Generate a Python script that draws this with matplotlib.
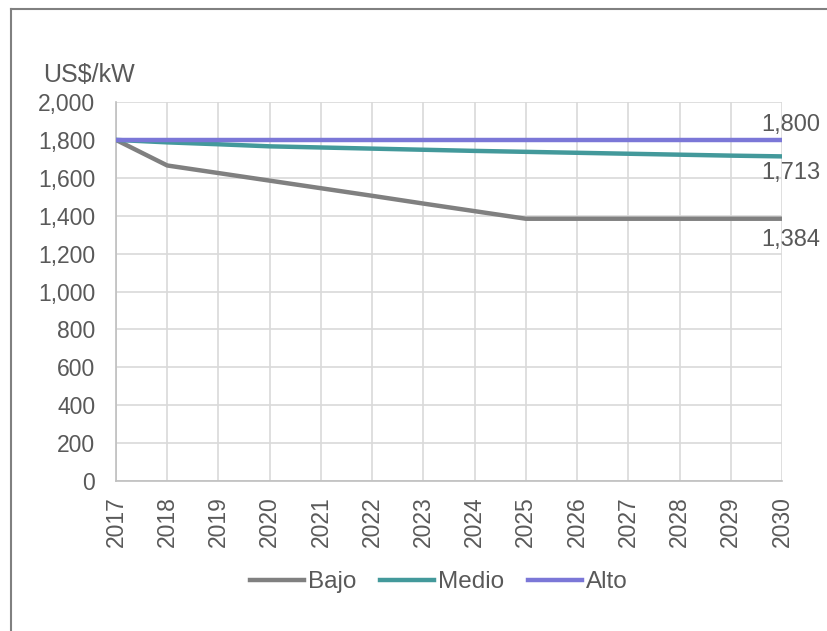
import matplotlib
matplotlib.use("Agg")
import matplotlib.pyplot as plt
from matplotlib.lines import Line2D

plt.rcParams['font.family'] = ['Liberation Sans', 'DejaVu Sans']

years = list(range(2017, 2031))
bajo = [1800, 1665, 1625, 1585, 1545, 1505, 1464, 1424, 1384, 1384, 1384, 1384, 1384, 1384]
medio = [1800, 1787, 1777, 1766, 1760, 1754, 1748, 1742, 1737, 1732, 1727, 1722, 1717, 1713]
alto = [1800] * 14
series_names = ["Bajo", "Medio", "Alto"]
colors = ["#808080", "#43999B", "#7B77D7"]

text_color = "#595959"
fs_tick = 16.5
fs_lab = 17
fs_leg = 17.5

W, H = 827, 631
fig = plt.figure(figsize=(W / 100, H / 100), dpi=100)
ax = fig.add_axes([116 / W, 1 - 481 / H, (782 - 116) / W, (481 - 102) / H])

for vals, name, c in zip([bajo, medio, alto], series_names, colors):
    ax.plot(years, vals, color=c, lw=3.2, label=name, solid_capstyle='butt', zorder=3)

ax.set_xlim(2017, 2030)
ax.set_ylim(0, 2000)
ax.set_yticks(range(0, 2001, 200))
ax.set_yticklabels([f"{v:,}" for v in range(0, 2001, 200)])
ax.set_xticks(years)
ax.set_xticklabels([str(y) for y in years], rotation=90)
ax.tick_params(axis='both', length=0, labelsize=fs_tick, colors=text_color)
ax.tick_params(axis='y', pad=15)
ax.tick_params(axis='x', pad=11)
ax.grid(True, color="#D9D9D9", lw=1.2)
ax.set_axisbelow(True)
for s in ['top', 'right']:
    ax.spines[s].set_visible(False)
for s in ['left', 'bottom']:
    ax.spines[s].set_color("#BFBFBF")
    ax.spines[s].set_linewidth(1.2)

# end-of-series value labels
ax.annotate(f"{alto[-1]:,}", (years[-1], alto[-1]), xytext=(6, 11), textcoords='offset points',
            ha='center', va='center', fontsize=fs_lab, color=text_color)
ax.annotate(f"{medio[-1]:,}", (years[-1], medio[-1]), xytext=(6, -12), textcoords='offset points',
            ha='center', va='center', fontsize=fs_lab, color=text_color)
ax.annotate(f"{bajo[-1]:,}", (years[-1], bajo[-1]), xytext=(6, -15), textcoords='offset points',
            ha='center', va='center', fontsize=fs_lab, color=text_color)

fig.text(43 / W, 1 - 75 / H, "US$/kW", fontsize=18, color=text_color, ha='left', va='center')

handles = [Line2D([], [], color=c, lw=3.2) for c in colors]
leg = fig.legend(handles, series_names, loc='center', bbox_to_anchor=(0.5 * (251 + 627) / W, 1 - 582 / H),
                 ncol=3, frameon=False, fontsize=fs_leg, handlelength=2.2, handletextpad=0.17,
                 columnspacing=1.0, labelcolor=text_color)

# chart frame (top and left edges)
fig.add_artist(Line2D([11 / W, 1.0], [1 - 9 / H, 1 - 9 / H], color="#808080", lw=1.5,
                      transform=fig.transFigure))
fig.add_artist(Line2D([11 / W, 11 / W], [0, 1 - 9 / H], color="#808080", lw=1.5,
                      transform=fig.transFigure))

fig.savefig("out.png", dpi=100, facecolor="white")
